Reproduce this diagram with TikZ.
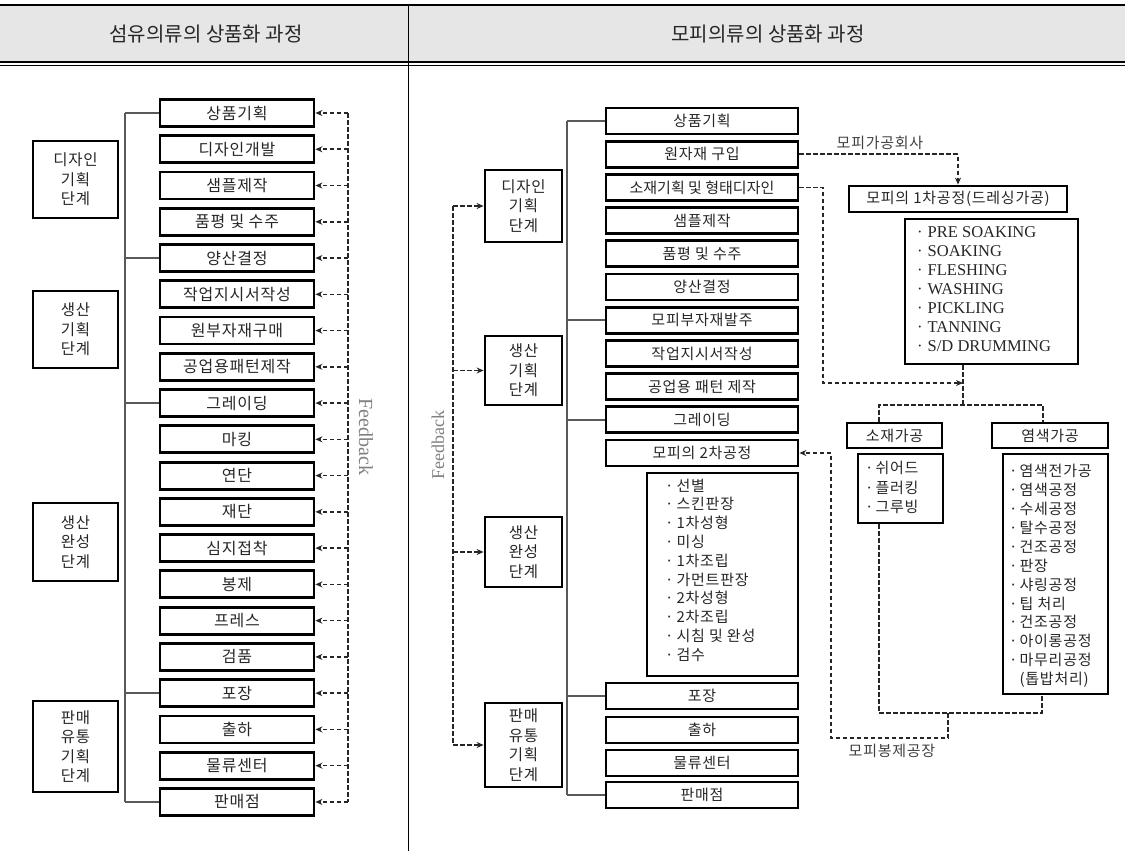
\documentclass[tikz,border=0pt]{standalone}
\usepackage{fontspec}
\usetikzlibrary{arrows.meta}
\newfontfamily\kr{Noto Sans CJK KR}
\newfontfamily\krs[LetterSpace=5]{Noto Sans CJK KR}
\newfontfamily\en{Liberation Serif}
\definecolor{hdr}{HTML}{E6E6E6}
\tikzset{
  box/.style={draw=black, line width=2.8pt, inner sep=0pt, text=black!85},
  lbox/.style={box, minimum width=154pt, minimum height=27pt, font=\krs\fontsize{16}{18}\selectfont},
  rbox/.style={box, minimum width=192pt, minimum height=26pt, font=\krs\fontsize{15}{18}\selectfont},
  stagebox/.style={box, align=center, font=\krs\fontsize{15.5}{19.5}\selectfont},
  listtext/.style={anchor=west, align=left, inner sep=0pt, text=black!85},
  fb/.style={draw=black!85, dash pattern=on 4.5pt off 2.5pt, line width=1.6pt},
  fbarrow/.style={fb, -{Stealth[length=7pt,width=6pt]}},
  brk/.style={draw=black!65, line width=1.8pt},
  hdrtext/.style={font=\kr\fontsize{20}{24}\selectfont, text=black!85},
  note/.style={font=\krs\fontsize{15}{18}\selectfont, text=black!75},
  fbtext/.style={text=black!50},
}
\begin{document}
\begin{tikzpicture}[x=1pt,y=-1pt]
\useasboundingbox (0,0) rectangle (1125,851);
% header
\fill[hdr] (0,5) rectangle (1125,62);
\draw[line width=1.2pt] (0,5) -- (1125,5);
\draw[line width=1.5pt] (0,62) -- (1125,62);
\draw[line width=1pt] (0,65.5) -- (1125,65.5);
\draw[line width=1pt] (408,5) -- (408,851);
\node[hdrtext] (H1) at (206,34) {섬유의류의 상품화 과정};
\node[hdrtext] (H2) at (768,34) {모피의류의 상품화 과정};

% ---------- left panel ----------
\foreach \t [count=\i from 0] in {상품기획,디자인개발,샘플제작,품평 및 수주,양산결정,작업지시서작성,원부자재구매,공업용패턴제작,그레이딩,마킹,연단,재단,심지접착,봉제,프레스,검품,포장,출하,물류센터,판매점}{
  \node[lbox] (L\i) at (237,113+36.26*\i) {\t};
  \coordinate (FL\i) at (348,113+36.26*\i);
  \coordinate (BL\i) at (125,113+36.26*\i);
  \draw[fbarrow] (FL\i) -- (L\i.east);
}
\draw[fb] (FL0) -- (FL19);
\draw[brk] (BL0) -- (BL19);
\foreach \i in {0,4,8,16,19}{ \draw[brk] (BL\i) -- (L\i.west); }
\node[fbtext, font=\en\fontsize{20}{22}\selectfont, rotate=-90] (FBL) at (366,437) {Feedback};

\node[stagebox, minimum width=85pt, minimum height=77pt] (LS1) at (75.5,179.5) {디자인\\기획\\단계};
\node[stagebox, minimum width=85pt, minimum height=77pt] (LS2) at (75.5,329.5) {생산\\기획\\단계};
\node[stagebox, minimum width=85pt, minimum height=78pt] (LS3) at (75.5,542) {생산\\완성\\단계};
\node[stagebox, minimum width=85pt, minimum height=91pt] (LS4) at (75.5,746.5) {판매\\유통\\기획\\단계};

% ---------- right panel ----------
\foreach \t [count=\i from 0] in {상품기획,원자재 구입,{\addfontfeature{LetterSpace=0}소재기획 및 형태디자인},샘플제작,품평 및 수주,양산결정,모피부자재발주,작업지시서작성,공업용 패턴 제작,그레이딩,모피의 2차공정}{
  \node[rbox] (R\i) at (702,121+33.2*\i) {\t};
}
\node[rbox] (R11) at (702,696) {포장};
\node[rbox] (R12) at (702,730) {출하};
\node[rbox] (R13) at (702,763) {물류센터};
\node[rbox] (R14) at (702,795) {판매점};

\coordinate (BR0) at (567,121);
\coordinate (BR14) at (567,795);
\draw[brk] (BR0) -- (BR14);
\foreach \i in {0,6,9,11,14}{ \draw[brk] (BR0 |- R\i.west) -- (R\i.west); }

\node[stagebox, minimum width=77pt, minimum height=72pt] (RS1) at (523.5,206) {디자인\\기획\\단계};
\node[stagebox, minimum width=77pt, minimum height=69pt] (RS2) at (523.5,370.5) {생산\\기획\\단계};
\node[stagebox, minimum width=77pt, minimum height=70pt] (RS3) at (523.5,552) {생산\\완성\\단계};
\node[stagebox, minimum width=77pt, minimum height=84pt] (RS4) at (523.5,745) {판매\\유통\\기획\\단계};

\foreach \i in {1,2,3,4}{
  \coordinate (FR\i) at (453,0 |- RS\i.west);
  \draw[fbarrow] (FR\i) -- (RS\i.west);
}
\draw[fb] (FR1) -- (FR4);
\node[fbtext, font=\en\fontsize{18}{22}\selectfont, rotate=90] (FBR) at (438,445) {Feedback};

% 2nd process list
\node[box, minimum width=151pt, minimum height=203pt] (R2L) at (722.5,574.5) {};
\node[listtext, font=\krs\fontsize{15}{18.8}\selectfont] (R2T) at (665,570) {·\hspace{3pt}선별\\·\hspace{3pt}스킨판장\\·\hspace{3pt}1차성형\\·\hspace{3pt}미싱\\·\hspace{3pt}1차조립\\·\hspace{3pt}가먼트판장\\·\hspace{3pt}2차성형\\·\hspace{3pt}2차조립\\·\hspace{3pt}시침 및 완성\\·\hspace{3pt}검수};

% 1st process
\node[note] (N1) at (880,143) {모피가공회사};
\node[box, minimum width=218pt, minimum height=26pt, font=\krs\fontsize{15}{18}\selectfont] (P1) at (958,199) {모피의 1차공정(드레싱가공)};
\node[box, minimum width=173pt, minimum height=145pt] (PL) at (991.5,291.5) {};
\node[listtext, font=\en\fontsize{16.5}{19}\selectfont] (PLT) at (917,289) {·\hspace{5pt}PRE SOAKING\\·\hspace{5pt}SOAKING\\·\hspace{5pt}FLESHING\\·\hspace{5pt}WASHING\\·\hspace{5pt}PICKLING\\·\hspace{5pt}TANNING\\·\hspace{5pt}S/D DRUMMING};

\coordinate (c1) at (958,0 |- R1.east);
\draw[fbarrow] (R1.east) -- (c1) -- (P1.north);
\coordinate (c2) at (823,383);
\coordinate (c3) at (963,383);
\draw[fbarrow] (R2.east) -| (c2) -- (c3);
\coordinate (c5) at (963,405);
\draw[fb] (c3 |- PL.south) -- (c5);

% material / dyeing
\node[box, minimum width=95pt, minimum height=25pt, font=\krs\fontsize{15}{18}\selectfont] (S1) at (894.5,435.5) {소재가공};
\node[box, minimum width=116pt, minimum height=25pt, font=\krs\fontsize{15}{18}\selectfont] (D1) at (1050,435.5) {염색가공};
\coordinate (c6) at (879,405);
\coordinate (c7) at (1043,405);
\draw[fb] (c6 |- S1.north) -- (c6) -- (c7) -- (c7 |- D1.north);

\node[box, minimum width=85pt, minimum height=69pt] (SL) at (900.5,488.5) {};
\node[listtext, font=\krs\fontsize{15}{19.5}\selectfont] (SLT) at (865,487.5) {·\hspace{2pt}쉬어드\\·\hspace{2pt}플러킹\\·\hspace{2pt}그루빙};
\node[box, minimum width=105pt, minimum height=240pt] (DL) at (1055.5,574) {};
\node[listtext, font=\krs\fontsize{15}{18.9}\selectfont] (DLT) at (1009,576) {·\hspace{2pt}염색전가공\\·\hspace{2pt}염색공정\\·\hspace{2pt}수세공정\\·\hspace{2pt}탈수공정\\·\hspace{2pt}건조공정\\·\hspace{2pt}판장\\·\hspace{2pt}샤링공정\\·\hspace{2pt}팁 처리\\·\hspace{2pt}건조공정\\·\hspace{2pt}아이롱공정\\·\hspace{2pt}마무리공정\\\hphantom{·\hspace{2pt}}(톱밥처리)};

\coordinate (c8) at (879,713);
\coordinate (c9) at (1042,713);
\draw[fb] (c8 |- SL.south) -- (c8) -- (c9) -- (c9 |- DL.south);
\coordinate (c10) at (948,713);
\coordinate (c11) at (831,738);
\draw[fbarrow] (c10) |- (c11) |- (R10.east);
\node[note] (N2) at (892,751) {모피봉제공장};
\end{tikzpicture}
\end{document}
